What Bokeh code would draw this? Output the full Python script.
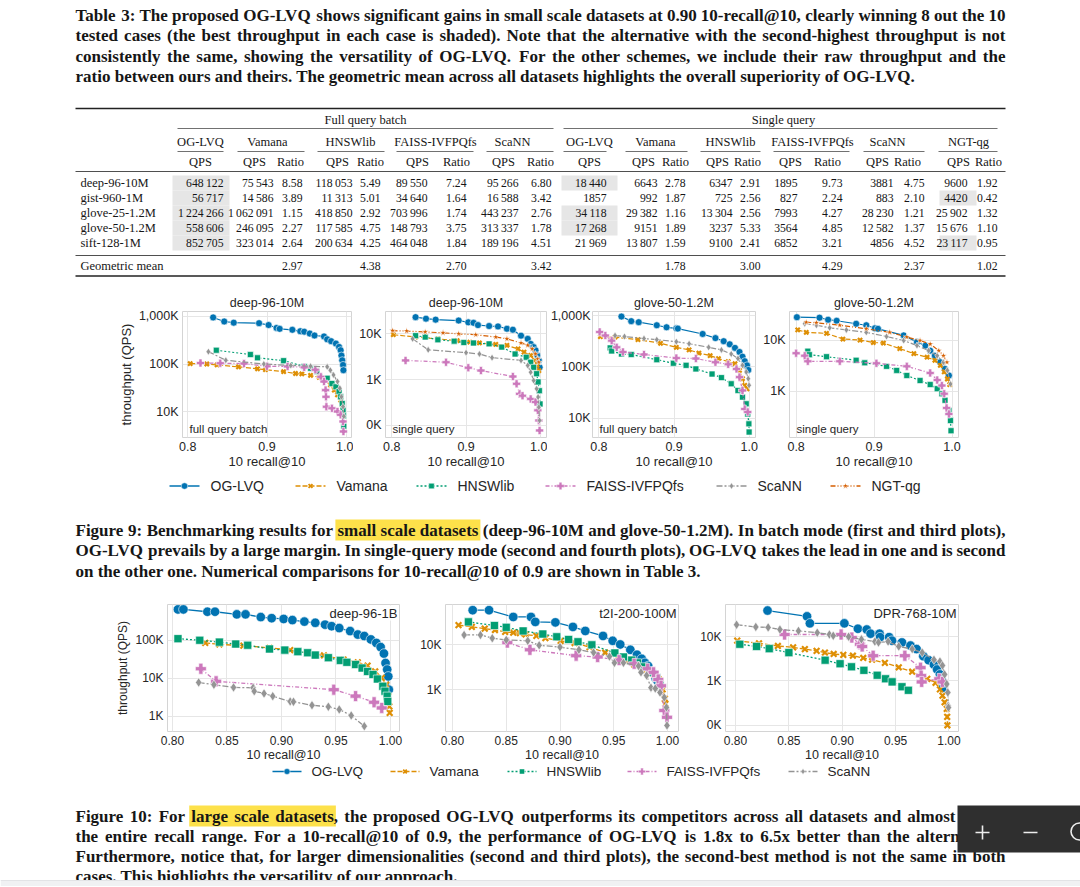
from bokeh.plotting import figure
from bokeh.layouts import column, row
from bokeh.models import Range1d, FixedTicker, CustomJSTickFormatter, PrintfTickFormatter, Label
from bokeh.embed import file_html
from bokeh.resources import INLINE
from bokeh.core.properties import value

# ------------------------------------------------------------------ texts
table_caption = [
    "Table 3: The proposed OG-LVQ shows significant gains in small scale datasets at 0.90 10-recall@10, clearly winning 8 out the 10",
    "tested cases (the best throughput in each case is shaded). Note that the alternative with the second-highest throughput is not",
    "consistently the same, showing the versatility of OG-LVQ. For the other schemes, we include their raw throughput and the",
    "ratio between ours and theirs. The geometric mean across all datasets highlights the overall superiority of OG-LVQ.",
]
fig9_caption = [
    "Figure 9: Benchmarking results for small scale datasets (deep-96-10M and glove-50-1.2M). In batch mode (first and third plots),",
    "OG-LVQ prevails by a large margin. In single-query mode (second and fourth plots), OG-LVQ takes the lead in one and is second",
    "on the other one. Numerical comparisons for 10-recall@10 of 0.9 are shown in Table 3.",
]
fig9_highlight = "small scale datasets"
fig10_caption = [
    "Figure 10: For large scale datasets, the proposed OG-LVQ outperforms its competitors across all datasets and almost",
    "the entire recall range. For a 10-recall@10 of 0.9, the performance of OG-LVQ is 1.8x to 6.5x better than the alternatives.",
    "Furthermore, notice that, for larger dimensionalities (second and third plots), the second-best method is not the same in both",
    "cases. This highlights the versatility of our approach.",
]
fig10_highlight = "large scale datasets"

# ------------------------------------------------------------------ table data
datasets = ["deep-96-10M", "gist-960-1M", "glove-25-1.2M", "glove-50-1.2M", "sift-128-1M"]
methods = ["OG-LVQ", "Vamana", "HNSWlib", "FAISS-IVFPQfs", "ScaNN", "NGT-qg"]
group_names = ["Full query batch", "Single query"]

batch_qps_oglvq = [648122, 56717, 1224266, 558606, 852705]
batch_qps_vamana = [75543, 14586, 1062091, 246095, 323014]
batch_ratio_vamana = [8.58, 3.89, 1.15, 2.27, 2.64]
batch_qps_hnswlib = [118053, 11313, 418850, 117585, 200634]
batch_ratio_hnswlib = [5.49, 5.01, 2.92, 4.75, 4.25]
batch_qps_faiss = [89550, 34640, 703996, 148793, 464048]
batch_ratio_faiss = [7.24, 1.64, 1.74, 3.75, 1.84]
batch_qps_scann = [95266, 16588, 443237, 313337, 189196]
batch_ratio_scann = [6.80, 3.42, 2.76, 1.78, 4.51]

single_qps_oglvq = [18440, 1857, 34118, 17268, 21969]
single_qps_vamana = [6643, 992, 29382, 9151, 13807]
single_ratio_vamana = [2.78, 1.87, 1.16, 1.89, 1.59]
single_qps_hnswlib = [6347, 725, 13304, 3237, 9100]
single_ratio_hnswlib = [2.91, 2.56, 2.56, 5.33, 2.41]
single_qps_faiss = [1895, 827, 7993, 3564, 6852]
single_ratio_faiss = [9.73, 2.24, 4.27, 4.85, 3.21]
single_qps_scann = [3881, 883, 28230, 12582, 4856]
single_ratio_scann = [4.75, 2.10, 1.21, 1.37, 4.52]
single_qps_ngt = [9600, 4420, 25902, 15676, 23117]
single_ratio_ngt = [1.92, 0.42, 1.32, 1.10, 0.95]

geomean_batch = [2.97, 4.38, 2.70, 3.42]
geomean_single = [1.78, 3.00, 4.29, 2.37, 1.02]

# ------------------------------------------------------------------ chart data
# deep-96-10M, full query batch
d10b_oglvq_x = [0.832, 0.846, 0.858, 0.890, 0.902, 0.912, 0.916, 0.932, 0.942, 0.947, 0.954, 0.960, 0.972, 0.976, 0.981, 0.987, 0.991, 0.993, 0.994, 0.995, 0.996, 0.9965]
d10b_oglvq_y = [955000, 785000, 741000, 724000, 661000, 575000, 550000, 525000, 490000, 479000, 437000, 398000, 380000, 331000, 302000, 269000, 229000, 195000, 151000, 120000, 95500, 74100]
d10b_vamana_x = [0.803, 0.824, 0.837, 0.864, 0.888, 0.898, 0.921, 0.936, 0.944, 0.955, 0.966, 0.972, 0.980, 0.985, 0.989, 0.993, 0.995]
d10b_vamana_y = [102000, 100000, 95500, 87100, 79400, 75900, 69200, 63100, 61700, 57500, 52500, 45700, 36300, 28200, 22400, 17400, 13800]
d10b_hnsw_x = [0.836, 0.879, 0.888, 0.921, 0.947, 0.955, 0.963, 0.976, 0.982, 0.987, 0.991, 0.993, 0.995, 0.996, 0.9965, 0.997]
d10b_hnsw_y = [195000, 158000, 135000, 117500, 89100, 81300, 69200, 50100, 38900, 33100, 26300, 20400, 14800, 10700, 8130, 4900]
d10b_faiss_x = [0.816, 0.841, 0.871, 0.900, 0.926, 0.947, 0.961, 0.968, 0.972, 0.974, 0.9745, 0.975, 0.982, 0.989, 0.993, 0.996, 0.9965]
d10b_faiss_y = [105000, 104000, 102000, 89500, 89000, 85100, 75900, 53700, 42700, 28200, 20400, 12600, 11700, 10000, 8510, 6170, 3800]
d10b_scann_x = [0.826, 0.848, 0.896, 0.930, 0.955, 0.976, 0.980, 0.984, 0.989, 0.992, 0.994, 0.996, 0.997]
d10b_scann_y = [182000, 120000, 100000, 93000, 90000, 87100, 74100, 58900, 42700, 30900, 20400, 12600, 7940]

# deep-96-10M, single query
d10s_oglvq_x = [0.832, 0.846, 0.859, 0.890, 0.903, 0.910, 0.916, 0.931, 0.943, 0.955, 0.963, 0.974, 0.983, 0.987, 0.991, 0.9935, 0.9957, 0.998, 0.999]
d10s_oglvq_y = [23100, 21400, 20400, 19500, 17800, 17400, 15500, 14800, 14500, 12900, 12300, 9120, 7760, 6030, 5130, 4370, 3390, 2630, 1860]
d10s_vamana_x = [0.802, 0.832, 0.862, 0.888, 0.905, 0.918, 0.940, 0.955, 0.970, 0.978, 0.987, 0.992, 0.9957, 0.998]
d10s_vamana_y = [9550, 8510, 7760, 7080, 6600, 6310, 5890, 5620, 4680, 3980, 3390, 2630, 2040, 1580]
d10s_hnsw_x = [0.832, 0.845, 0.862, 0.884, 0.897, 0.910, 0.931, 0.948, 0.966, 0.981, 0.987, 0.991, 0.995, 0.997, 0.9987, 0.9996]
d10s_hnsw_y = [9120, 8510, 7410, 6920, 6460, 6310, 6030, 5130, 3630, 3090, 2400, 1860, 1350, 891, 575, 295]
d10s_faiss_x = [0.8185, 0.873, 0.903, 0.920, 0.963, 0.968, 0.972, 0.976, 0.987, 0.9935, 0.9966, 0.998, 0.999]
d10s_faiss_y = [2630, 2400, 1820, 1580, 1170, 813, 490, 447, 380, 324, 214, 129, 78]
d10s_scann_x = [0.828, 0.849, 0.900, 0.918, 0.935, 0.974, 0.983, 0.987, 0.991, 0.995, 0.997, 0.998, 0.999]
d10s_scann_y = [7760, 4470, 3880, 3630, 3020, 2630, 2040, 1450, 955, 631, 417, 251, 129]
d10s_ngt_x = [0.801, 0.820, 0.845, 0.869, 0.890, 0.913, 0.940, 0.955, 0.974, 0.983, 0.989, 0.9935, 0.9966, 0.998]
d10s_ngt_y = [11700, 11500, 11000, 10500, 10000, 9550, 8510, 7760, 6310, 5620, 4680, 3630, 2820, 2400]

# glove-50-1.2M, full query batch
g50b_oglvq_x = [0.830, 0.843, 0.853, 0.877, 0.890, 0.903, 0.905, 0.938, 0.955, 0.966, 0.974, 0.981, 0.987, 0.991, 0.994, 0.997, 0.9987]
g50b_oglvq_y = [955000, 776000, 741000, 646000, 589000, 562000, 556000, 437000, 363000, 316000, 275000, 234000, 195000, 158000, 129000, 107000, 87100]
g50b_vamana_x = [0.802, 0.8215, 0.852, 0.882, 0.903, 0.920, 0.933, 0.948, 0.959, 0.972, 0.981, 0.987, 0.991, 0.994, 0.997]
g50b_vamana_y = [389000, 380000, 339000, 288000, 240000, 214000, 186000, 166000, 145000, 126000, 115000, 85100, 58900, 43700, 37200]
g50b_hnsw_x = [0.815, 0.817, 0.830, 0.843, 0.877, 0.899, 0.916, 0.929, 0.9505, 0.963, 0.976, 0.985, 0.991, 0.996, 0.998, 0.9995, 0.9998]
g50b_hnsw_y = [234000, 204000, 178000, 174000, 138000, 117500, 107000, 91200, 72400, 61700, 46800, 34700, 25700, 19100, 12000, 7760, 5370]
g50b_faiss_x = [0.801, 0.8086, 0.817, 0.8237, 0.832, 0.860, 0.903, 0.929, 0.955, 0.972, 0.983, 0.987, 0.991, 0.994, 0.998]
g50b_faiss_y = [479000, 407000, 324000, 240000, 195000, 174000, 148000, 145000, 123000, 112000, 91200, 63100, 34700, 15100, 13200]
g50b_scann_x = [0.8215, 0.834, 0.860, 0.877, 0.903, 0.920, 0.946, 0.963, 0.976, 0.985, 0.991, 0.996, 0.9987, 0.9998]
g50b_scann_y = [407000, 389000, 355000, 339000, 309000, 282000, 240000, 214000, 178000, 145000, 107000, 79400, 58900, 43700]

# glove-50-1.2M, single query
g50s_oglvq_x = [0.801, 0.830, 0.841, 0.852, 0.877, 0.890, 0.901, 0.905, 0.938, 0.955, 0.966, 0.972, 0.978, 0.985, 0.991, 0.996]
g50s_oglvq_y = [28800, 28200, 25700, 24500, 21400, 20000, 17400, 17000, 12600, 9330, 7940, 6310, 5010, 3720, 2750, 2040]
g50s_vamana_x = [0.802, 0.813, 0.839, 0.860, 0.882, 0.899, 0.912, 0.933, 0.951, 0.968, 0.978, 0.985, 0.990, 0.994, 0.997]
g50s_vamana_y = [16200, 14500, 13800, 10700, 10200, 9120, 8910, 6920, 5500, 4680, 4070, 3240, 2400, 1740, 1350]
g50s_hnsw_x = [0.815, 0.817, 0.839, 0.877, 0.888, 0.916, 0.929, 0.942, 0.959, 0.972, 0.981, 0.987, 0.991, 0.996, 0.998, 0.9987]
g50s_hnsw_y = [6170, 5250, 4790, 4070, 3630, 3090, 2570, 2040, 1620, 1350, 1120, 891, 661, 417, 263, 166]
g50s_faiss_x = [0.800, 0.811, 0.815, 0.856, 0.903, 0.942, 0.972, 0.981, 0.987, 0.990, 0.993, 0.996]
g50s_faiss_y = [5620, 5010, 3890, 3890, 3550, 3090, 2290, 1660, 1290, 891, 468, 355]
g50s_scann_x = [0.811, 0.826, 0.843, 0.8645, 0.890, 0.916, 0.938, 0.955, 0.970, 0.981, 0.989, 0.994, 0.998]
g50s_scann_y = [21400, 20000, 17800, 16200, 14500, 12000, 10000, 7940, 6310, 5010, 3720, 2570, 1380]
g50s_ngt_x = [0.813, 0.826, 0.856, 0.890, 0.920, 0.942, 0.959, 0.972, 0.983, 0.989, 0.9935]
g50s_ngt_y = [22900, 22400, 20000, 17000, 14500, 11700, 10000, 8510, 6310, 5010, 3720]

# deep-96-1B
d1b_oglvq_x = [0.805, 0.810, 0.832, 0.839, 0.859, 0.867, 0.881, 0.891, 0.902, 0.910, 0.921, 0.931, 0.940, 0.946, 0.953, 0.963, 0.970, 0.976, 0.982, 0.987, 0.991, 0.994, 0.9955, 0.997, 0.998, 0.9985]
d1b_oglvq_y = [646000, 646000, 562000, 562000, 479000, 479000, 407000, 380000, 363000, 339000, 309000, 288000, 257000, 234000, 209000, 174000, 141000, 129000, 105000, 85100, 66100, 44700, 25100, 17000, 11200, 5010]
d1b_vamana_x = [0.830, 0.843, 0.865, 0.889, 0.908, 0.939, 0.957, 0.970, 0.979, 0.986, 0.992, 0.996, 0.998, 0.999, 0.9993]
d1b_vamana_y = [85100, 77600, 72400, 63100, 55000, 39800, 30900, 26300, 21400, 15100, 10200, 6760, 3390, 1820, 1230]
d1b_hnsw_x = [0.805, 0.825, 0.843, 0.858, 0.869, 0.889, 0.903, 0.915, 0.924, 0.931, 0.943, 0.954, 0.960, 0.968, 0.974, 0.979, 0.984, 0.988, 0.993, 0.995, 0.997, 0.9975]
d1b_hnsw_y = [110000, 100000, 89100, 79400, 74100, 58900, 55000, 50100, 46800, 40700, 34700, 29500, 26300, 22900, 18600, 15100, 12600, 9550, 6170, 4570, 3390, 2450]
d1b_faiss_x = [0.826, 0.840, 0.948, 0.968, 0.985, 0.992]
d1b_faiss_y = [17800, 8320, 5010, 3390, 2340, 1660]
d1b_scann_x = [0.824, 0.838, 0.856, 0.874, 0.875, 0.884, 0.892, 0.908, 0.911, 0.928, 0.943, 0.953, 0.964, 0.976]
d1b_scann_y = [7760, 6760, 5750, 5620, 4570, 3980, 3390, 2450, 2400, 1950, 1780, 1510, 1050, 550]

# t2I-200-100M
t2i_oglvq_x = [0.8188, 0.834, 0.8565, 0.873, 0.877, 0.8957, 0.912, 0.9235, 0.940, 0.949, 0.956, 0.9654, 0.9716, 0.976, 0.979, 0.982, 0.986, 0.989, 0.9907]
t2i_oglvq_y = [58900, 58900, 41700, 41700, 32400, 31600, 25100, 20400, 15800, 12300, 10200, 7760, 6030, 4900, 3980, 3390, 2400, 1780, 1580]
t2i_vamana_x = [0.8056, 0.818, 0.830, 0.8395, 0.849, 0.8565, 0.8627, 0.868, 0.878, 0.8864, 0.9006, 0.9136, 0.9275, 0.942, 0.9537, 0.962, 0.969, 0.980, 0.9877, 0.992, 0.9954, 0.9975, 0.998]
t2i_vamana_y = [27500, 25100, 22900, 21400, 19500, 18600, 18200, 17000, 15800, 14100, 12300, 11000, 8910, 6760, 5130, 4370, 3630, 2820, 2190, 1700, 1020, 631, 490]
t2i_hnsw_x = [0.8148, 0.839, 0.850, 0.8657, 0.884, 0.897, 0.908, 0.9167, 0.9296, 0.951, 0.959, 0.9667, 0.972, 0.978, 0.985, 0.990, 0.993]
t2i_hnsw_y = [32400, 26900, 24500, 20400, 17400, 15100, 13200, 11700, 10000, 6610, 5370, 4570, 3980, 3240, 2450, 1860, 1320]
t2i_faiss_x = [0.851, 0.872, 0.915, 0.935, 0.955, 0.969, 0.9815, 0.987, 0.9914, 0.994, 0.997, 0.9995]
t2i_faiss_y = [11200, 7760, 5750, 5370, 4570, 3800, 2950, 2450, 1700, 1230, 347, 245]
t2i_scann_x = [0.8108, 0.826, 0.837, 0.850, 0.870, 0.8806, 0.900, 0.9176, 0.9312, 0.946, 0.9506, 0.959, 0.973, 0.9753, 0.9805, 0.9846, 0.9886, 0.993, 0.997, 0.999, 0.9995]
t2i_scann_y = [16600, 16600, 14100, 12900, 12300, 9770, 8910, 7760, 6760, 5500, 3980, 3980, 3390, 2450, 2090, 1120, 1070, 871, 676, 407, 162]

# DPR-768-10M
dpr_oglvq_x = [0.830, 0.867, 0.8697, 0.902, 0.9147, 0.923, 0.9266, 0.935, 0.9355, 0.944, 0.9466, 0.956, 0.964, 0.9697, 0.976, 0.981, 0.986, 0.989, 0.9916, 0.9937, 0.9947]
dpr_oglvq_y = [38900, 28800, 20000, 20000, 15100, 14500, 11700, 11700, 9770, 9770, 8130, 7410, 6310, 5250, 3630, 2950, 2340, 1820, 1410, 1000, 708]
dpr_vamana_x = [0.8016, 0.822, 0.8397, 0.854, 0.865, 0.876, 0.8838, 0.892, 0.901, 0.910, 0.9197, 0.928, 0.940, 0.953, 0.9656, 0.9797, 0.9875, 0.9916, 0.994, 0.996, 0.998, 0.9984, 0.9986]
dpr_vamana_y = [8130, 7080, 6170, 5750, 5250, 4790, 4370, 4070, 3890, 3720, 3310, 3020, 2570, 2040, 1620, 1120, 912, 646, 468, 331, 234, 155, 100]
dpr_hnsw_x = [0.804, 0.8197, 0.8316, 0.850, 0.884, 0.898, 0.9087, 0.9203, 0.9328, 0.9406, 0.9468, 0.956, 0.962]
dpr_hnsw_y = [6760, 6030, 5370, 4370, 2950, 2450, 2090, 1740, 1350, 1120, 955, 741, 617]
dpr_faiss_x = [0.846, 0.899, 0.909, 0.9166, 0.9187, 0.929, 0.9587, 0.9734, 0.974, 0.9745, 0.991, 0.994]
dpr_faiss_y = [11200, 11200, 9550, 6760, 6030, 3720, 3720, 2000, 1320, 955, 1120, 955]
dpr_scann_x = [0.801, 0.819, 0.8306, 0.8416, 0.859, 0.8766, 0.888, 0.8916, 0.906, 0.918, 0.9306, 0.934, 0.943, 0.953, 0.9656, 0.975, 0.986, 0.9916, 0.994, 0.996, 0.998, 0.999, 0.9993, 0.9996]
dpr_scann_y = [18600, 16600, 16200, 14500, 13500, 12300, 11200, 10500, 10000, 8710, 7760, 7410, 7760, 6030, 5250, 4370, 3020, 2750, 2240, 1410, 851, 550, 275, 251]

top_titles = ["deep-96-10M", "deep-96-10M", "glove-50-1.2M", "glove-50-1.2M"]
top_notes = ["full query batch", "single query", "full query batch", "single query"]
bottom_titles = ["deep-96-1B", "t2I-200-100M", "DPR-768-10M"]
x_label = "10 recall@10"
y_label = "throughput (QPS)"
top_xticks = [0.8, 0.9, 1.0]
bottom_xticks = [0.80, 0.85, 0.90, 0.95, 1.00]

# ------------------------------------------------------------------ styles
SANS = "Liberation Sans"
SERIF = "Liberation Serif"
INK = "#161616"
TXT = "#262626"
GRID = "#e6e6e6"
FRAME = "#d4d4d4"
colors = ["#0173b2", "#de8f05", "#029e73", "#cc78bc", "#949494", "#d55e00"]
markers = ["circle", "x", "square", "plus", "diamond", "star"]
dashes = ["solid", "5 2", "2 2", "4 2 1 2", "6 2 2 2", "5 2 1 2 1 2"]
msize_rel = [1.0, 0.85, 0.85, 1.15, 1.0, 1.0]
PAGE_W = 1080
CAP_FS = 17

# advance widths (1/1000 em) of the bold serif face, used to justify caption lines
_adv = {" ": 250, "!": 333, "%": 1000, "&": 833, "'": 278, "(": 333, ")": 333, "+": 570, ",": 250,
        "-": 333, ".": 250, "/": 278, ":": 333, ";": 333, "?": 500, "@": 930,
        "A": 722, "B": 667, "C": 722, "D": 722, "E": 667, "F": 611, "G": 778, "H": 778, "I": 389,
        "J": 500, "K": 778, "L": 667, "M": 944, "N": 722, "O": 778, "P": 611, "Q": 778, "R": 722,
        "S": 556, "T": 667, "U": 722, "V": 722, "W": 1000, "X": 722, "Y": 722, "Z": 667,
        "a": 500, "b": 556, "c": 444, "d": 556, "e": 444, "f": 333, "g": 500, "h": 556, "i": 278,
        "j": 333, "k": 556, "l": 278, "m": 833, "n": 556, "o": 500, "p": 556, "q": 556, "r": 444,
        "s": 389, "t": 333, "u": 556, "v": 500, "w": 722, "x": 500, "y": 500, "z": 444}


def text_w(s, fs):
    return sum(_adv.get(ch, 500) for ch in s) * fs / 1000.0


def page_fig(y0, y1):
    p = figure(width=PAGE_W, height=y1 - y0, x_range=Range1d(0, PAGE_W), y_range=Range1d(y1, y0),
               output_backend="svg", toolbar_location=None, tools="",
               x_axis_type=None, y_axis_type=None, min_border=0,
               min_border_left=0, min_border_right=0, min_border_top=0, min_border_bottom=0)
    p.outline_line_color = None
    p.grid.visible = False
    return p


def put_text(p, xs, ys, txt, size, align="left", bold=False, font=SERIF, color=INK):
    p.text(x=xs, y=ys, text=txt, text_font=value(font), text_font_size=size,
           text_font_style="bold" if bold else "normal", text_align=align,
           text_baseline="middle", text_color=color)


def caption(p, lines, x0, rights, y0, step, highlight=None):
    """Justified bold caption; lines with right=None are set ragged (paragraph end)."""
    for li, line in enumerate(lines):
        y = y0 + step * li
        right = rights[li]
        words = line.split(" ")
        ws = [text_w(w, CAP_FS) for w in words]
        if right is None or len(words) < 2:
            put_text(p, [x0], [y], [line], f"{CAP_FS}px", bold=True)
            continue
        gap = (right - x0 - sum(ws)) / (len(words) - 1)
        xs, x = [], x0
        for w in ws:
            xs.append(x)
            x += w + gap
        if highlight is not None:
            hw = highlight.split(" ")
            for i in range(len(words) - len(hw) + 1):
                if [w.strip(",.;:") for w in words[i:i + len(hw)]] == hw:
                    l = xs[i] - 2
                    r = xs[i + len(hw) - 1] + text_w(hw[-1], CAP_FS) + 2
                    p.quad(left=[l], right=[r], top=[y - 10.5], bottom=[y + 10.5],
                           fill_color="#fde14a", line_color=None)
        put_text(p, xs, [y] * len(words), words, f"{CAP_FS}px", bold=True)


def fmt_qps(v):
    return f"{v:,}".replace(",", "\u2009") if v >= 10000 else str(v)


# ------------------------------------------------------------------ table figure
top = page_fig(0, 288)
caption(top, table_caption, 75, [1005, 1005, 1005, None], 15, 20.3)

batch_qps = [batch_qps_oglvq, batch_qps_vamana, batch_qps_hnswlib, batch_qps_faiss, batch_qps_scann]
batch_ratio = [None, batch_ratio_vamana, batch_ratio_hnswlib, batch_ratio_faiss, batch_ratio_scann]
single_qps = [single_qps_oglvq, single_qps_vamana, single_qps_hnswlib, single_qps_faiss, single_qps_scann, single_qps_ngt]
single_ratio = [None, single_ratio_vamana, single_ratio_hnswlib, single_ratio_faiss, single_ratio_scann, single_ratio_ngt]

# column layout: head centre, rule span, QPS header centre, QPS right edge, Ratio header centre, Ratio right edge, shade span
batch_cols = [
    (200, 177, 223, 200, 223, None, None, (172, 229)),
    (267, 237, 304, 254, 273, 290, 302, (228, 276)),
    (350, 317, 384, 337, 352, 370, 380, (310, 356)),
    (435, 396, 473, 417, 427, 456, 466, (392, 431)),
    (512, 486, 553, 503, 518, 540, 551, (478, 522)),
]
single_cols = [
    (589, 563, 606, 589, 606, None, None, (561, 617)),
    (655, 625, 687, 643, 657, 675, 685, (620, 661)),
    (730, 700, 760, 717, 732, 747, 760, (697, 736)),
    (812, 773, 849, 790, 797, 827, 842, (771, 801)),
    (887, 863, 924, 877, 893, 907, 924, (858, 897)),
    (968, 938, 997, 958, 967, 988, 997, (939, 976)),
]
row_y = [182.5 + 15 * i for i in range(len(datasets))]

# shading of the best throughput per case
sh_l, sh_r, sh_t, sh_b = [], [], [], []
for qps_list, cols in ((batch_qps, batch_cols), (single_qps, single_cols)):
    for i in range(len(datasets)):
        best = max(range(len(qps_list)), key=lambda m: qps_list[m][i])
        sh_l.append(cols[best][7][0]); sh_r.append(cols[best][7][1])
        sh_t.append(row_y[i] - 7.5); sh_b.append(row_y[i] + 7.5)
top.quad(left=sh_l, right=sh_r, top=sh_t, bottom=sh_b, fill_color="#e6e6e6", line_color=None)

# rules
top.segment(x0=[75, 75, 75, 75], y0=[108, 171, 255, 275.5], x1=[1005] * 4, y1=[108, 171, 255, 275.5],
            line_color="#222222", line_width=[1.4, 0.8, 0.8, 1.4])
top.segment(x0=[177, 563], y0=[128, 128], x1=[553, 997], y1=[128, 128], line_color="#333333", line_width=0.7)
mr_x0 = [c[1] for c in batch_cols] + [c[1] for c in single_cols]
mr_x1 = [c[2] for c in batch_cols] + [c[2] for c in single_cols]
top.segment(x0=mr_x0, y0=[151] * len(mr_x0), x1=mr_x1, y1=[151] * len(mr_x0), line_color="#333333", line_width=0.7)

TFS = "12.5px"
NFS = "11.7px"
put_text(top, [365, 783], [119, 119], group_names, TFS, align="center")
put_text(top, [c[0] for c in batch_cols] + [c[0] for c in single_cols], [141] * 11,
         methods[:5] + methods, TFS, align="center")
hx, ht = [], []
for cols in (batch_cols, single_cols):
    for c in cols:
        hx.append(c[3]); ht.append("QPS")
        if c[5] is not None:
            hx.append(c[5]); ht.append("Ratio")
put_text(top, hx, [161.5] * len(hx), ht, TFS, align="center")
put_text(top, [80] * len(datasets), row_y, datasets, TFS)

vx, vy, vt = [], [], []
for qps_list, ratio_list, cols in ((batch_qps, batch_ratio, batch_cols), (single_qps, single_ratio, single_cols)):
    for m, c in enumerate(cols):
        for i in range(len(datasets)):
            vx.append(c[4]); vy.append(row_y[i]); vt.append(fmt_qps(qps_list[m][i]))
            if ratio_list[m] is not None:
                vx.append(c[6]); vy.append(row_y[i]); vt.append(f"{ratio_list[m][i]:.2f}")
put_text(top, vx, vy, vt, NFS, align="right")
put_text(top, [80], [265.5], ["Geometric mean"], TFS)
gx = [c[6] for c in batch_cols[1:]] + [c[6] for c in single_cols[1:]]
gt = [f"{v:.2f}" for v in geomean_batch + geomean_single]
put_text(top, gx, [265.5] * len(gx), gt, NFS, align="right")


# ------------------------------------------------------------------ charts
def make_chart(w, h, bl, br, bt, bb, xr, yr, xticks, xfmt, yticks, series, msize, lw,
               tick_fs, lab_fs, ylab=False, ylab_fs="13px", title=None, inside_title=None,
               note=None, ystand=4):
    p = figure(width=w, height=h, x_range=Range1d(*xr), y_range=Range1d(*yr), y_axis_type="log",
               output_backend="svg", toolbar_location=None, tools="",
               min_border_left=bl, min_border_right=br, min_border_top=bt, min_border_bottom=bb)
    p.background_fill_color = "white"
    p.outline_line_color = FRAME
    p.outline_line_width = 1
    p.xaxis.ticker = FixedTicker(ticks=xticks, minor_ticks=[])
    p.yaxis.ticker = FixedTicker(ticks=yticks, minor_ticks=[])
    p.xaxis.formatter = PrintfTickFormatter(format=xfmt)
    p.yaxis.formatter = CustomJSTickFormatter(code="return Math.round(tick/1000).toLocaleString('en-US') + 'K';")
    p.xgrid.grid_line_color = GRID
    p.ygrid.grid_line_color = GRID
    p.xgrid.grid_line_width = 1
    p.ygrid.grid_line_width = 1
    for ax in (p.xaxis[0], p.yaxis[0]):
        ax.axis_line_color = None
        ax.major_tick_line_color = None
        ax.minor_tick_line_color = None
        ax.major_tick_out = 0
        ax.major_tick_in = 0
        ax.major_label_text_font = SANS
        ax.major_label_text_font_size = tick_fs
        ax.major_label_text_color = TXT
        ax.axis_label_text_font = SANS
        ax.axis_label_text_font_size = lab_fs
        ax.axis_label_text_font_style = "normal"
        ax.axis_label_text_color = TXT
        ax.axis_label_standoff = 0
    p.xaxis.major_label_standoff = 4
    p.yaxis.major_label_standoff = ystand
    p.xaxis.axis_label = x_label
    if ylab:
        p.yaxis.axis_label = y_label
        p.yaxis.axis_label_text_font_size = ylab_fs
        p.yaxis.axis_label_standoff = 2
    if title:
        p.title.text = title
        p.title.align = "center"
        p.title.text_font = SANS
        p.title.text_font_size = "12.5px"
        p.title.text_font_style = "normal"
        p.title.text_color = TXT
        p.title.standoff = 3
    for k, xs, ys in series:
        p.line(xs, ys, line_color=colors[k], line_width=lw, line_dash=dashes[k])
        s = msize * msize_rel[k]
        if markers[k] == "x":
            p.scatter(xs, ys, marker="x", size=s, line_color=colors[k], line_width=2.2)
        else:
            p.scatter(xs, ys, marker=markers[k], size=s, fill_color=colors[k], line_color="white", line_width=0.6)
    if inside_title:
        p.add_layout(Label(x=xr[1], y=yr[1], x_offset=-2, y_offset=-1, text=inside_title,
                           text_align="right", text_baseline="top", text_font=SANS,
                           text_font_size="13px", text_color=TXT, background_fill_color="white"))
    if note:
        p.add_layout(Label(x=xr[0], y=yr[0], x_offset=7, y_offset=3, text=note,
                           text_align="left", text_baseline="bottom", text_font=SANS,
                           text_font_size="11.5px", text_color=TXT))
    return p


top_series = [
    [(0, d10b_oglvq_x, d10b_oglvq_y), (1, d10b_vamana_x, d10b_vamana_y), (2, d10b_hnsw_x, d10b_hnsw_y),
     (3, d10b_faiss_x, d10b_faiss_y), (4, d10b_scann_x, d10b_scann_y)],
    [(0, d10s_oglvq_x, d10s_oglvq_y), (1, d10s_vamana_x, d10s_vamana_y), (2, d10s_hnsw_x, d10s_hnsw_y),
     (3, d10s_faiss_x, d10s_faiss_y), (4, d10s_scann_x, d10s_scann_y), (5, d10s_ngt_x, d10s_ngt_y)],
    [(0, g50b_oglvq_x, g50b_oglvq_y), (1, g50b_vamana_x, g50b_vamana_y), (2, g50b_hnsw_x, g50b_hnsw_y),
     (3, g50b_faiss_x, g50b_faiss_y), (4, g50b_scann_x, g50b_scann_y)],
    [(0, g50s_oglvq_x, g50s_oglvq_y), (1, g50s_vamana_x, g50s_vamana_y), (2, g50s_hnsw_x, g50s_hnsw_y),
     (3, g50s_faiss_x, g50s_faiss_y), (4, g50s_scann_x, g50s_scann_y), (5, g50s_ngt_x, g50s_ngt_y)],
]
bottom_series = [
    [(0, d1b_oglvq_x, d1b_oglvq_y), (1, d1b_vamana_x, d1b_vamana_y), (2, d1b_hnsw_x, d1b_hnsw_y),
     (3, d1b_faiss_x, d1b_faiss_y), (4, d1b_scann_x, d1b_scann_y)],
    [(0, t2i_oglvq_x, t2i_oglvq_y), (1, t2i_vamana_x, t2i_vamana_y), (2, t2i_hnsw_x, t2i_hnsw_y),
     (3, t2i_faiss_x, t2i_faiss_y), (4, t2i_scann_x, t2i_scann_y)],
    [(0, dpr_oglvq_x, dpr_oglvq_y), (1, dpr_vamana_x, dpr_vamana_y), (2, dpr_hnsw_x, dpr_hnsw_y),
     (3, dpr_faiss_x, dpr_faiss_y), (4, dpr_scann_x, dpr_scann_y)],
]

TH, TBT, TBB = 187, 23, 38
top_geo = [  # width, border left, border right, x range, y range, y ticks, label standoff
    (353, 182, 2, (0.7933, 1.0067), (2838, 1274000), [1e4, 1e5, 1e6], 4),
    (194, 32, 1, (0.7915, 1.0083), (54.7, 30700), [1e2, 1e3, 1e4], 4),
    (211, 42, 3, (0.7915, 1.0083), (4207, 1197000), [1e4, 1e5, 1e6], 2),
    (322, 31, 122, (0.7915, 1.0083), (122, 37330), [1e3, 1e4], 4),
]
top_charts = []
for i, (w, bl, br, xr, yr, yt, ys) in enumerate(top_geo):
    top_charts.append(make_chart(w, TH, bl, br, TBT, TBB, xr, yr, top_xticks, "%.1f", yt, top_series[i],
                                 7, 1.2, "12.5px", "13px", ylab=(i == 0), ylab_fs="13px",
                                 title=top_titles[i], note=top_notes[i], ystand=ys))

BH, BBT, BBB = 174, 14, 32
bottom_geo = [
    (405, 167, 6, (0.7954, 1.0083), (398, 871000), [1e3, 1e4, 1e5]),
    (280, 40, 7, (0.7935, 1.0102), (118.6, 78900), [1e3, 1e4]),
    (395, 40, 122, (0.7906, 1.009), (72.4, 53300), [1e2, 1e3, 1e4]),
]
bottom_charts = []
for i, (w, bl, br, xr, yr, yt) in enumerate(bottom_geo):
    bottom_charts.append(make_chart(w, BH, bl, br, BBT, BBB, xr, yr, bottom_xticks, "%.2f", yt, bottom_series[i],
                                    9.5, 1.3, "12px", "12.5px", ylab=(i == 0), ylab_fs="12px",
                                    inside_title=bottom_titles[i]))


# ------------------------------------------------------------------ legends
def legend_fig(y0, y1, yc, starts, seg, gap, n, fs, msize):
    p = page_fig(y0, y1)
    for k in range(n):
        p.line([starts[k], starts[k] + seg], [yc, yc], line_color=colors[k], line_width=1.3, line_dash=dashes[k])
        cx = starts[k] + seg / 2
        if markers[k] == "x":
            p.scatter([cx], [yc], marker="x", size=msize * 0.85, line_color=colors[k], line_width=1.8)
        else:
            p.scatter([cx], [yc], marker=markers[k], size=msize * msize_rel[k], fill_color=colors[k],
                      line_color="white", line_width=0.5)
    put_text(p, [s + gap for s in starts[:n]], [yc] * n, methods[:n], fs, font=SANS, color=TXT)
    return p


leg1 = legend_fig(475, 500, 485.5, [169, 295, 416, 545, 716, 830], 30, 41, 6, "14px", 6.5)
leg2 = legend_fig(764, 782, 771, [272, 390, 507, 627, 788], 29, 39, 5, "13.5px", 6)

# ------------------------------------------------------------------ caption figures
cap9 = page_fig(500, 590)
caption(cap9, fig9_caption, 75, [1005, 1005, None], 529.5, 20.75, highlight=fig9_highlight)

cap10 = page_fig(782, 886)
caption(cap10, fig10_caption, 75, [955, 1005, 1005, None], 815.5, 20.3, highlight=fig10_highlight)
# viewer zoom overlay and bottom bar of the screenshot
cap10.quad(left=[957], right=[PAGE_W], top=[805], bottom=[852], fill_color="#2f2f2f", line_color=None)
cap10.segment(x0=[975, 982, 1023], y0=[832, 825, 832], x1=[989, 982, 1037], y1=[832, 839, 832],
              line_color="#ededed", line_width=1.6)
cap10.scatter([1079], [831], marker="circle", size=17, fill_color=None, line_color="#ededed", line_width=1.6)
cap10.quad(left=[0], right=[PAGE_W], top=[880], bottom=[886], fill_color="#f0f1f3", line_color=None)
cap10.segment(x0=[0], y0=[880], x1=[PAGE_W], y1=[880], line_color="#e2e3e6", line_width=1)

layout = column(top, row(*top_charts), leg1, cap9, row(*bottom_charts), leg2, cap10)

open("out.html", "w").write(file_html(layout, INLINE))
